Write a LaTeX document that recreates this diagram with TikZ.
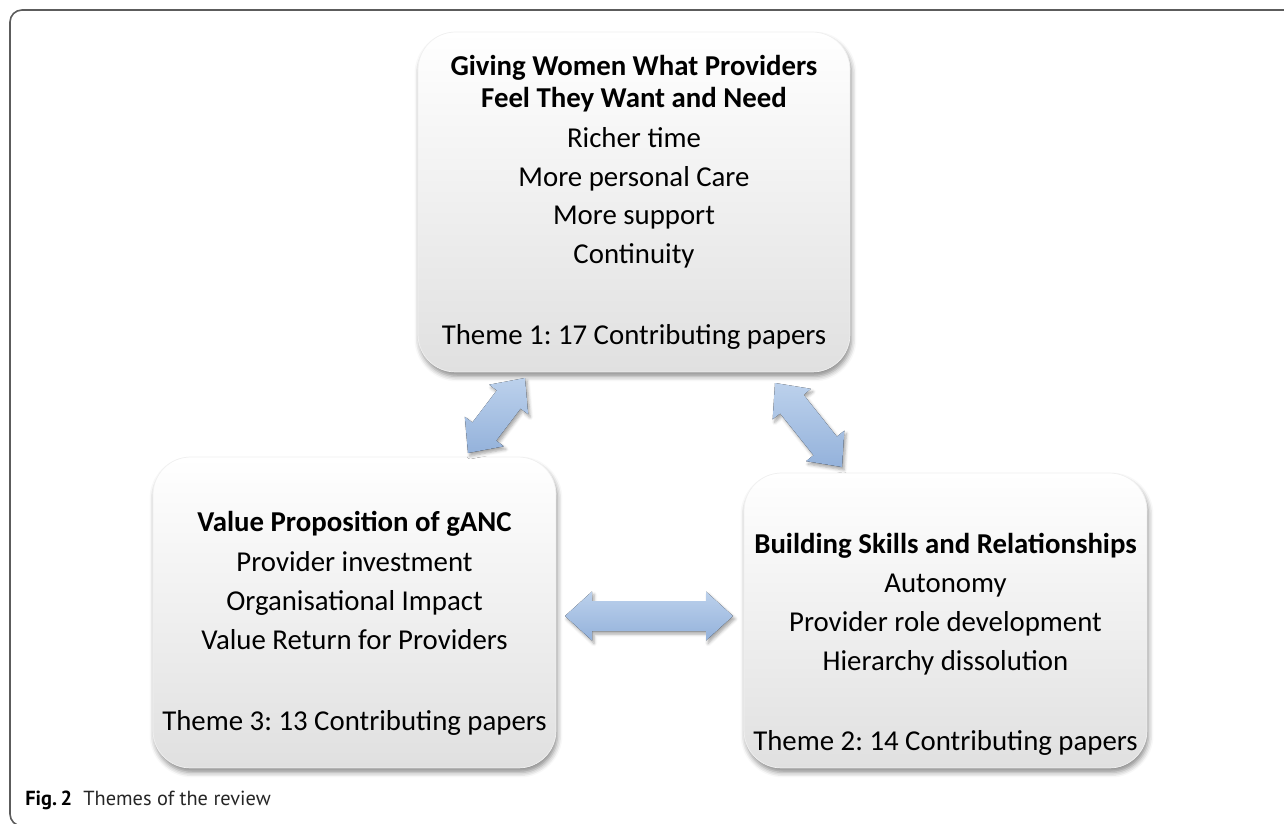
\documentclass[tikz,border=0pt]{standalone}
\usepackage{fontspec}
\setmainfont{Carlito}
\newfontfamily\capfont{PT Sans}
\frenchspacing
\usetikzlibrary{positioning, calc, shadows, shadows.blur}

\definecolor{arrowtop}{HTML}{BCD1EC}
\definecolor{arrowbot}{HTML}{94B2DB}
\definecolor{boxbot}{HTML}{E0E0E0}
\definecolor{framegray}{HTML}{5C5C5C}

% block arrow with a head at both ends, from tip #1 to tip #2
\newcommand{\twoway}[2]{%
  \fill[arrowshape] (#1)
    -- ($(#1)!0.54cm!(#2)!0.49cm!90:(#2)$)
    -- ($(#1)!0.54cm!(#2)!0.30cm!90:(#2)$)
    -- ($(#2)!0.54cm!(#1)!0.30cm!-90:(#1)$)
    -- ($(#2)!0.54cm!(#1)!0.49cm!-90:(#1)$)
    -- (#2)
    -- ($(#2)!0.54cm!(#1)!0.49cm!90:(#1)$)
    -- ($(#2)!0.54cm!(#1)!0.30cm!90:(#1)$)
    -- ($(#1)!0.54cm!(#2)!0.30cm!-90:(#2)$)
    -- ($(#1)!0.54cm!(#2)!0.49cm!-90:(#2)$)
    -- cycle;}

\begin{document}
\begin{tikzpicture}[
    x=0.02cm, y=-0.02cm,
    themebox/.style={rectangle, rounded corners=0.75cm, top color=white, bottom color=boxbot,
        draw=gray!12, line width=0.4pt,
        blur shadow={shadow xshift=0.03cm, shadow yshift=-0.09cm, shadow opacity=45, shadow blur radius=0.1cm}},
    arrowshape/.style={top color=arrowtop, bottom color=arrowbot,
        blur shadow={shadow xshift=0.04cm, shadow yshift=-0.06cm, shadow opacity=35, shadow blur radius=0.06cm}},
    heading/.style={anchor=base, inner sep=0pt, font=\bfseries\fontsize{16.4}{19}\selectfont},
    item/.style={anchor=base, inner sep=0pt, font=\fontsize{16.4}{19}\selectfont},
    caption/.style={anchor=base west, inner sep=0pt, text=black!85, font=\capfont\fontsize{11.6}{13}\selectfont}
]
\useasboundingbox (0,0) rectangle (1284,824);
\clip (0,0) rectangle (1284,824);

% outer frame
\draw[framegray, line width=0.9pt, rounded corners=0.24cm] (10,10) rectangle (1320,826);

% --- Theme boxes ---
\node[themebox, minimum width=8.64cm, minimum height=6.8cm] (needs) at (634,202) {};
\node[themebox, minimum width=8.06cm, minimum height=6.22cm] (value) at (354.5,612.5) {};
\node[themebox, minimum width=8.06cm, minimum height=5.9cm] (skills) at (945.5,620.5) {};

% Theme 1
\node[heading] (needs-h1) at (634,76) {Giving Women What Providers};
\node[heading] (needs-h2) at (634,108) {Feel They Want and Need};
\foreach \t [count=\i] in {Richer time, More personal Care, More support, Continuity}
    \node[item] (needs-\i) at (634, 148+38.4*\i-38.4) {\t};
\node[item] (needs-n) at (634,344) {Theme 1: 17 Contributing papers};

% Theme 3
\node[heading] (value-h) at (354.5,531) {Value Proposition of gANC};
\foreach \t [count=\i] in {Provider investment, Organisational Impact, Value Return for Providers}
    \node[item] (value-\i) at (354.5, 571+39*\i-39) {\t};
\node[item] (value-n) at (354.5,730) {Theme 3: 13 Contributing papers};

% Theme 2
\node[heading] (skills-h) at (945.5,553) {Building Skills and Relationships};
\foreach \t [count=\i] in {Autonomy, Provider role development, Hierarchy dissolution}
    \node[item] (skills-\i) at (945.5, 592+39*\i-39) {\t};
\node[item] (skills-n) at (945.5,750) {Theme 2: 14 Contributing papers};

% --- Arrows between themes ---
\coordinate (lt) at (525,378);
\coordinate (lb) at (468,453);
\coordinate (rt) at (775,383);
\coordinate (rb) at (842,467);
\coordinate (hl) at (565,616);
\coordinate (hr) at (733,616);
\twoway{lb}{lt}
\twoway{rt}{rb}
\twoway{hl}{hr}

% caption
\node[caption, text=black, font=\capfont\bfseries\fontsize{11.6}{13}\selectfont] (figno) at (25,805) {Fig.\,2};
\node[caption] (figtext) at ([xshift=6pt]figno.base east) {Themes of the review};

\end{tikzpicture}
\end{document}
